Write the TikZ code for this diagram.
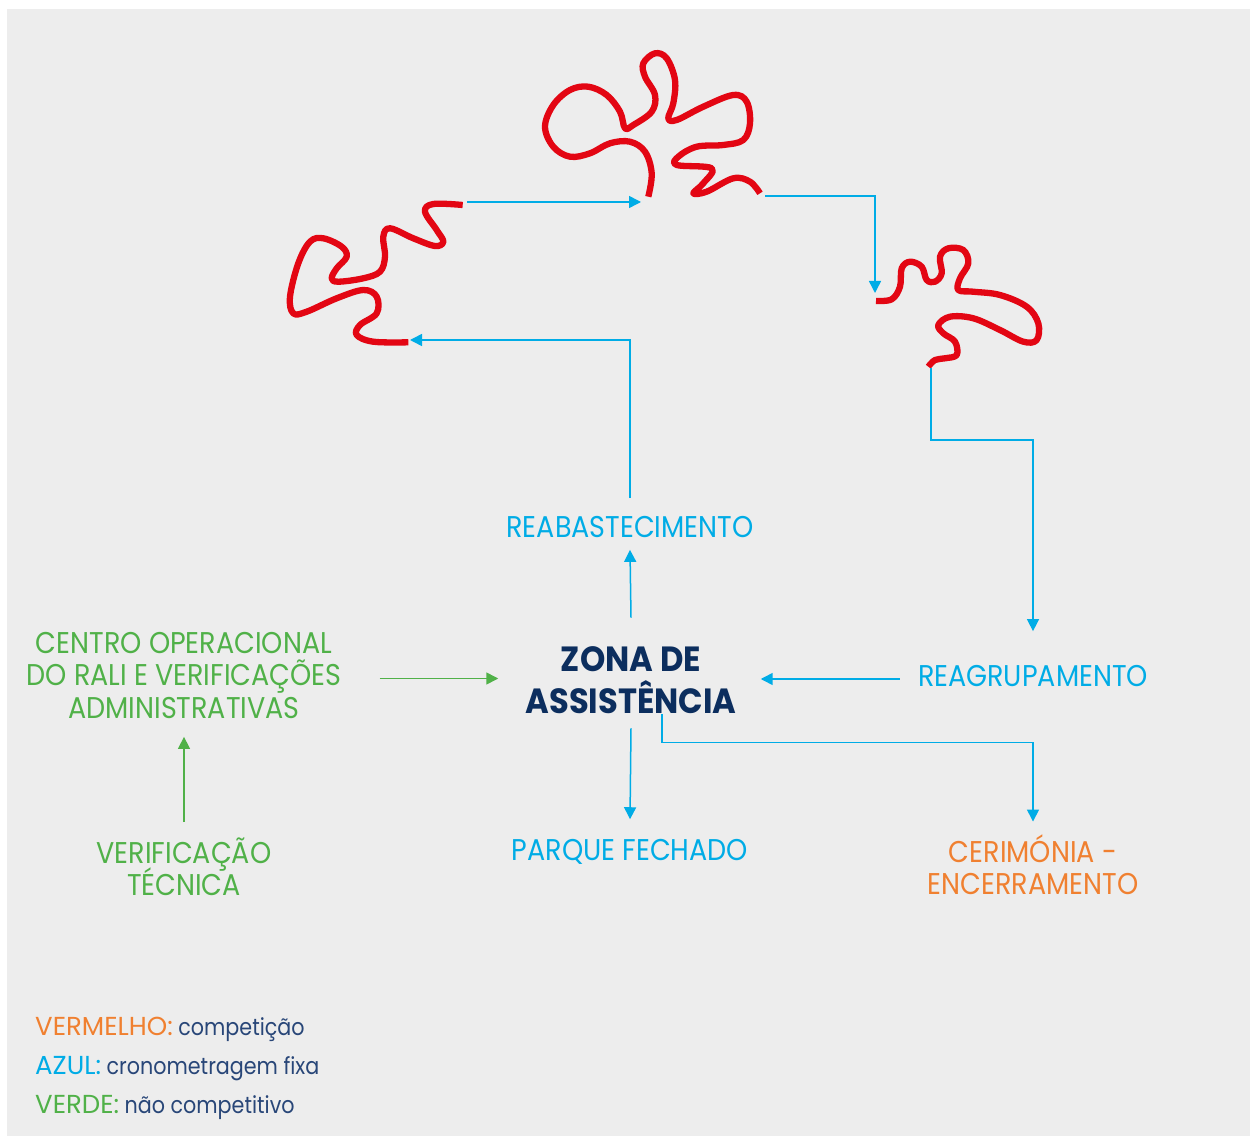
\documentclass[tikz,border=0pt]{standalone}
\usepackage{fontspec}
\setmainfont{Poppins}
\newfontfamily\labelfont{Poppins}[FakeStretch=0.9]
\newfontfamily\zonefont{Poppins}[FakeStretch=0.92]
\newfontfamily\keyfont{Poppins}[FakeStretch=0.88]
\usetikzlibrary{arrows.meta}
\definecolor{trackred}{RGB}{227,6,19}
\definecolor{timeblue}{RGB}{0,172,230}
\definecolor{freegreen}{RGB}{80,177,72}
\definecolor{endorange}{RGB}{240,128,48}
\definecolor{zonenavy}{RGB}{12,46,94}
\definecolor{keynavy}{RGB}{40,70,120}
\definecolor{paper}{RGB}{237,237,237}
\newcommand{\flowwidth}{1.5pt}
\newcommand{\trackwidth}{6.3pt}
\newcommand{\tightlines}{\setlength{\lineskiplimit}{-100pt}}
\newcommand{\keyword}[2]{{\rmfamily\fontsize{26}{28}\selectfont\textcolor{#1}{#2}}}
\tikzset{
  lbl/.style={font=\labelfont\fontsize{30}{32.5}\selectfont\tightlines, align=center, inner sep=0pt},
  keytext/.style={font=\keyfont\fontsize{23.5}{28}\selectfont, anchor=base west, inner sep=0pt, text=keynavy},
  flow/.style={draw=timeblue, line width=\flowwidth, -{Triangle[length=12pt,width=12pt]}},
  greenflow/.style={flow, draw=freegreen},
  track/.style={draw=trackred, line width=\trackwidth, line join=round}
}

\begin{document}
\begin{tikzpicture}[x=1pt,y=-1pt]
\useasboundingbox (0,0) rectangle (1253,1139);
\fill[paper] (7,9) rectangle (1250,1136);
%tracks
\draw[track] plot[smooth, tension=0.6] coordinates {(462.7,205) (433.3,204) (425,211.7) (436.7,230) (443.3,241.7) (435,246) (413.3,238.3) (390,228.3) (383.3,236.7) (385,256.7) (380,271.7) (363.3,278.3) (338.3,281.7) (331.7,278.3) (336.7,268.3) (346.7,256.7) (341.7,246.7) (323.3,238.3) (310,241.7) (298.3,263.3) (290,296.7) (293.3,313.3) (306.7,311.7) (336.7,298.3) (363.3,290) (376.7,296.7) (376.7,313.3) (360,325) (356.7,335) (373.3,341.7) (408.3,342.3)};
\draw[track] plot[smooth, tension=0.6] coordinates {(648.3,196.7) (651.7,173.3) (645,151.7) (630,141.7) (610,143.3) (590,153.3) (570,156.7) (553.3,146.7) (545,126.7) (553.3,105) (570,90) (588.3,86.7) (606.7,95) (620,111.7) (625,128.3) (633.3,125) (651.7,111.7) (655,95) (645,76.7) (643.3,63.3) (655,53.3) (666.7,58.3) (675,80) (673.3,103.3) (668.3,118.3) (676.7,120) (703.3,106.7) (733.3,95) (746.7,101.7) (750,123.3) (743.3,140) (723.3,145) (696.7,146.7) (678.3,156.7) (676.7,165) (711.7,168.3) (703.3,183.3) (693.3,193.3) (706.7,191.7) (733.3,178.3) (750,181.7) (760,193.3)};
\draw[track] plot[smooth, tension=0.6] coordinates {(876,301) (891.7,299.3) (900,286.7) (901.7,268.3) (910,261.7) (921.7,266.7) (926.7,280) (935,281.7) (941.7,273.3) (940,256.7) (948.3,248.3) (963.3,250) (968.3,263.3) (960,278.3) (958.3,290) (973.3,291.7) (1000,295) (1026.7,306.7) (1038.3,323.3) (1036.7,340) (1023.3,341.7) (1000,330) (973.3,318.3) (950,316.7) (938.3,325) (943.3,333.3) (955,341.7) (956.7,355) (945,358.3) (935,360) (928.3,366.7)};
\coordinate (in1) at (410,340);
\coordinate (out1) at (467,202);
\coordinate (in2) at (641,202);
\coordinate (out2) at (765,196);
\coordinate (in3) at (875,293);
\coordinate (out3) at (931,368);
%labels
\node[lbl, text=timeblue] (reab) at (630,527) {REABASTECIMENTO};
\node[font=\zonefont\fontsize{35}{42}\selectfont\bfseries, align=center, inner sep=0pt, text=zonenavy] (zona) at (631,680.5) {ZONA DE\\ASSISTÊNCIA};
\node[lbl, text=timeblue] (parque) at (630,852) {PARQUE FECHADO};
\node[lbl, text=timeblue] (reag) at (1033,676) {REAGRUPAMENTO};
\node[lbl, text=endorange] (cerim) at (1033,864.5) {CERIMÓNIA -\\ENCERRAMENTO};
\node[lbl, text=freegreen] (centro) at (184,675.5) {CENTRO OPERACIONAL\\DO RALI E VERIFICAÇÕES\\ADMINISTRATIVAS};
\node[lbl, text=freegreen] (veri) at (184,866.5) {VERIFICAÇÃO\\TÉCNICA};
%flows
\draw[flow] ([yshift=29pt]zona.north) -- ([yshift=-12pt]reab.south);
\draw[flow] ([yshift=18pt]reab.north) |- (in1);
\draw[flow] (out1) -- (in2);
\draw[flow] (out2) -| (in3);
\draw[flow] (out3) -- ++(0,72) -| ([yshift=34pt]reag.north);
\draw[flow] ([xshift=-18pt,yshift=-3pt]reag.west) -- ([xshift=24pt,yshift=-3pt]reag.west -| zona.east);
\draw[flow] ([yshift=-14pt]zona.south) -- ([yshift=20pt]parque.north);
\draw[flow] ([xshift=31pt]zona.south) -- ++(0,28) -| ([yshift=12.5pt]cerim.north);
\draw[greenflow] ([xshift=38pt,yshift=-3pt]centro.east) -- ([xshift=-27pt,yshift=-3pt]centro.east -| zona.west);
\draw[greenflow] ([yshift=15pt]veri.north) -- ([yshift=-18pt]centro.south);
%key
\node[keytext] (key1) at (35,1035) {\keyword{endorange}{VERMELHO:} competição};
\node[keytext] (key2) at (35,1074) {\keyword{timeblue}{AZUL:} cronometragem fixa};
\node[keytext] (key3) at (35,1113) {\keyword{freegreen}{VERDE:} não competitivo};
\end{tikzpicture}
\end{document}
